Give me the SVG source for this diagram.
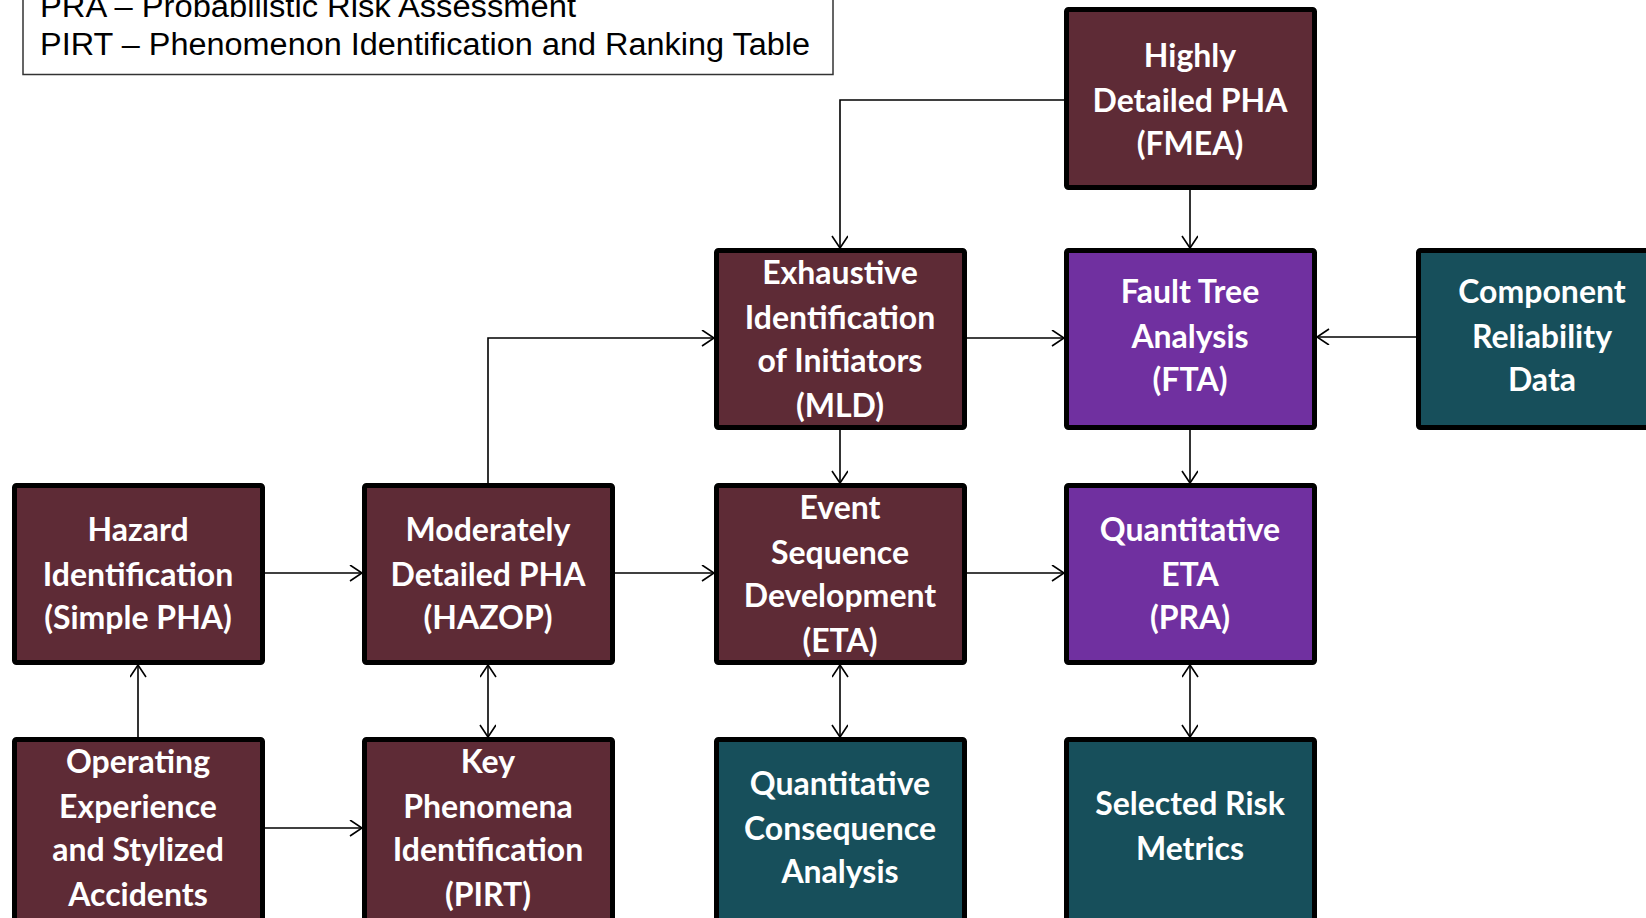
<svg xmlns="http://www.w3.org/2000/svg" width="1646" height="918" viewBox="0 0 1646 918">
<defs>
<style>
.box{stroke:#000;stroke-width:5;}
.m{fill:#5E2B36;}
.p{fill:#7030A0;}
.t{fill:#174F5B;}
.lbl{font-family:Lato,"Open Sans","Liberation Sans",sans-serif;font-weight:bold;font-size:32px;fill:#fff;text-anchor:middle;}
.leg{font-family:"Liberation Sans",Arial,sans-serif;font-size:31px;fill:#000;}
.c{fill:none;stroke:#000;stroke-width:1.6;}
</style>
<marker id="ah" markerUnits="userSpaceOnUse" markerWidth="16" markerHeight="18" refX="13" refY="8" orient="auto-start-reverse" viewBox="0 0 16 18">
<path d="M1,0 L13,8 L1,16" fill="none" stroke="#000" stroke-width="1.6"/>
</marker>
</defs>
<rect width="1646" height="918" fill="#fff"/>
<g id="legend">
<rect x="23" y="-10" width="810" height="84.5" fill="#fff" stroke="#333" stroke-width="1.5"/>
<text class="leg" x="40" y="17" textLength="536" lengthAdjust="spacingAndGlyphs">PRA – Probabilistic Risk Assessment</text>
<text class="leg" x="40" y="54.5" textLength="770" lengthAdjust="spacingAndGlyphs">PIRT – Phenomenon Identification and Ranking Table</text>
</g>
<g id="connectors">
<polyline class="c" points="1064,100 840,100 840,248" marker-end="url(#ah)"/>
<line class="c" x1="1190" y1="190" x2="1190" y2="248" marker-end="url(#ah)"/>
<line class="c" x1="967" y1="338" x2="1064" y2="338" marker-end="url(#ah)"/>
<line class="c" x1="1416" y1="337" x2="1317" y2="337" marker-end="url(#ah)"/>
<line class="c" x1="1190" y1="429" x2="1190" y2="483" marker-end="url(#ah)"/>
<line class="c" x1="840" y1="429" x2="840" y2="483" marker-end="url(#ah)"/>
<polyline class="c" points="488,483 488,338 714,338" marker-end="url(#ah)"/>
<line class="c" x1="265" y1="573" x2="362" y2="573" marker-end="url(#ah)"/>
<line class="c" x1="615" y1="573" x2="714" y2="573" marker-end="url(#ah)"/>
<line class="c" x1="967" y1="573" x2="1064" y2="573" marker-end="url(#ah)"/>
<line class="c" x1="138" y1="737" x2="138" y2="665" marker-end="url(#ah)"/>
<line class="c" x1="488" y1="665" x2="488" y2="737" marker-start="url(#ah)" marker-end="url(#ah)"/>
<line class="c" x1="840" y1="665" x2="840" y2="737" marker-start="url(#ah)" marker-end="url(#ah)"/>
<line class="c" x1="1190" y1="665" x2="1190" y2="737" marker-start="url(#ah)" marker-end="url(#ah)"/>
<line class="c" x1="265" y1="828" x2="362" y2="828" marker-end="url(#ah)"/>
</g>
<g id="fmea">
<rect class="box m" x="1066.5" y="9.5" width="248" height="178" rx="2"/>
<text class="lbl" x="1190" y="67">Highly</text>
<text class="lbl" x="1190" y="112">Detailed PHA</text>
<text class="lbl" x="1190" y="155">(FMEA)</text>
</g>
<g id="mld">
<rect class="box m" x="716.5" y="250.5" width="248" height="177" rx="2"/>
<text class="lbl" x="840" y="284">Exhaustive</text>
<text class="lbl" x="840" y="329">Identification</text>
<text class="lbl" x="840" y="372">of Initiators</text>
<text class="lbl" x="840" y="417">(MLD)</text>
</g>
<g id="fta">
<rect class="box p" x="1066.5" y="250.5" width="248" height="177" rx="2"/>
<text class="lbl" x="1190" y="303">Fault Tree</text>
<text class="lbl" x="1190" y="348">Analysis</text>
<text class="lbl" x="1190" y="391">(FTA)</text>
</g>
<g id="crd">
<rect class="box t" x="1418.5" y="250.5" width="248" height="177" rx="2"/>
<text class="lbl" x="1542" y="303">Component</text>
<text class="lbl" x="1542" y="348">Reliability</text>
<text class="lbl" x="1542" y="391">Data</text>
</g>
<g id="hazard">
<rect class="box m" x="14.5" y="485.5" width="248" height="177" rx="2"/>
<text class="lbl" x="138" y="541">Hazard</text>
<text class="lbl" x="138" y="586">Identification</text>
<text class="lbl" x="138" y="629">(Simple PHA)</text>
</g>
<g id="hazop">
<rect class="box m" x="364.5" y="485.5" width="248" height="177" rx="2"/>
<text class="lbl" x="488" y="541">Moderately</text>
<text class="lbl" x="488" y="586">Detailed PHA</text>
<text class="lbl" x="488" y="629">(HAZOP)</text>
</g>
<g id="eta">
<rect class="box m" x="716.5" y="485.5" width="248" height="177" rx="2"/>
<text class="lbl" x="840" y="519">Event</text>
<text class="lbl" x="840" y="564">Sequence</text>
<text class="lbl" x="840" y="607">Development</text>
<text class="lbl" x="840" y="652">(ETA)</text>
</g>
<g id="qeta">
<rect class="box p" x="1066.5" y="485.5" width="248" height="177" rx="2"/>
<text class="lbl" x="1190" y="541">Quantitative</text>
<text class="lbl" x="1190" y="586">ETA</text>
<text class="lbl" x="1190" y="629">(PRA)</text>
</g>
<g id="opexp">
<rect class="box m" x="14.5" y="739.5" width="248" height="190" rx="2"/>
<text class="lbl" x="138" y="773">Operating</text>
<text class="lbl" x="138" y="818">Experience</text>
<text class="lbl" x="138" y="861">and Stylized</text>
<text class="lbl" x="138" y="906">Accidents</text>
</g>
<g id="pirt">
<rect class="box m" x="364.5" y="739.5" width="248" height="190" rx="2"/>
<text class="lbl" x="488" y="773">Key</text>
<text class="lbl" x="488" y="818">Phenomena</text>
<text class="lbl" x="488" y="861">Identification</text>
<text class="lbl" x="488" y="906">(PIRT)</text>
</g>
<g id="qca">
<rect class="box t" x="716.5" y="739.5" width="248" height="190" rx="2"/>
<text class="lbl" x="840" y="795">Quantitative</text>
<text class="lbl" x="840" y="840">Consequence</text>
<text class="lbl" x="840" y="883">Analysis</text>
</g>
<g id="metrics">
<rect class="box t" x="1066.5" y="739.5" width="248" height="190" rx="2"/>
<text class="lbl" x="1190" y="815">Selected Risk</text>
<text class="lbl" x="1190" y="860">Metrics</text>
</g>
</svg>
